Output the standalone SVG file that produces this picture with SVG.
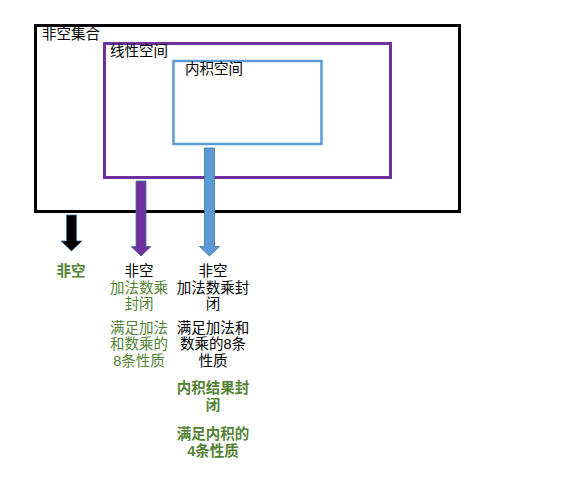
<svg xmlns="http://www.w3.org/2000/svg" width="582" height="482" viewBox="0 0 582 482">
<style>
.t{font-family:"Liberation Sans","Noto Sans CJK SC",sans-serif;font-size:14.5px;fill:#000}
.c{text-anchor:middle}
.g{fill:#548235}
.b{font-weight:bold}
.arr{stroke:#41719c;stroke-width:0.8}
</style>
<rect width="582" height="482" fill="#fff"/>
<g id="set">
<rect x="35.5" y="25.5" width="424" height="186" fill="none" stroke="#000" stroke-width="3"/>
<text class="t" x="42" y="39">非空集合</text>
</g>
<g id="linear">
<rect x="104.5" y="43.5" width="286" height="134" fill="none" stroke="#7030a0" stroke-width="3"/>
<text class="t" x="110" y="56">线性空间</text>
</g>
<g id="inner">
<rect x="173.5" y="61" width="148" height="83" fill="none" stroke="#5b9bd5" stroke-width="2.5"/>
<text class="t" x="185" y="74">内积空间</text>
</g>
<g id="connectors">
<path class="arr" fill="#000" d="M66.5,215 H76.5 V241 H82 L71.5,251 L61,241 H66.5 Z"/>
<path class="arr" fill="#7030a0" d="M136,181 H146 V246.5 H151 L141,256 L131,246.5 H136 Z"/>
<path class="arr" fill="#5b9bd5" d="M204.5,148 H214.5 V246.5 H219.5 L209.5,256 L199.5,246.5 H204.5 Z"/>
</g>
<g id="col1">
<text class="t c g b" x="71" y="276">非空</text>
</g>
<g id="col2">
<text class="t c" x="139" y="276">非空</text>
<text class="t c g" x="139" y="292.5">加法数乘</text>
<text class="t c g" x="139" y="309">封闭</text>
<text class="t c g" x="139" y="332.5">满足加法</text>
<text class="t c g" x="139" y="349">和数乘的</text>
<text class="t c g" x="139" y="365.5">8条性质</text>
</g>
<g id="col3">
<text class="t c" x="213" y="276">非空</text>
<text class="t c" x="213" y="292.5">加法数乘封</text>
<text class="t c" x="213" y="309">闭</text>
<text class="t c" x="213" y="332.5">满足加法和</text>
<text class="t c" x="213" y="349">数乘的8条</text>
<text class="t c" x="213" y="365.5">性质</text>
<text class="t c g b" x="213" y="393">内积结果封</text>
<text class="t c g b" x="213" y="409.5">闭</text>
<text class="t c g b" x="213" y="439">满足内积的</text>
<text class="t c g b" x="213" y="455.5">4条性质</text>
</g>
</svg>
